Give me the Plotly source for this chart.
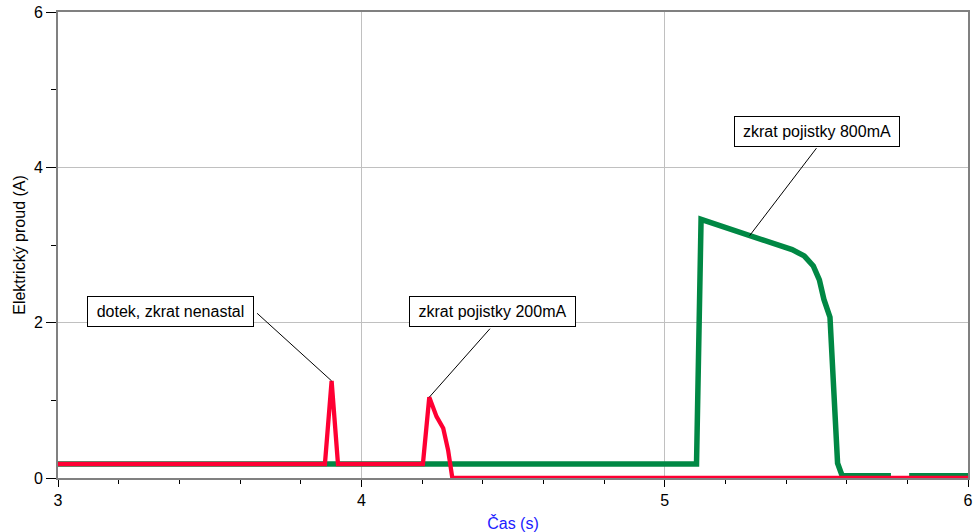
import plotly.graph_objects as go

# Data
green_t = [3.0, 5.105, 5.12, 5.20, 5.28, 5.35, 5.42, 5.46, 5.49, 5.51, 5.525, 5.545,
           5.555, 5.565, 5.57, 5.585, 5.746, None, 5.806, 6.0]
green_i = [0.18, 0.18, 3.33, 3.23, 3.12, 3.03, 2.94, 2.86, 2.73, 2.55, 2.30, 2.07,
           1.40, 0.60, 0.19, 0.03, 0.03, None, 0.03, 0.03]

red_t = [3.0, 3.88, 3.902, 3.923, 4.203, 4.224, 4.248, 4.27, 4.286, 4.30, 6.0]
red_i = [0.18, 0.18, 1.25, 0.18, 0.18, 1.04, 0.79, 0.64, 0.36, 0.0, 0.0]

labels = ["dotek, zkrat nenastal", "zkrat pojistky 200mA", "zkrat pojistky 800mA"]
label_pos = [(3.3725, 2.15), (4.432, 2.15), (5.502, 4.455)]
arrow_heads = [(red_t[2], red_i[2]), (red_t[5], red_i[5]), (green_t[4], green_i[4])]
arrow_offsets = [(-76, -69), (62, -70), (68, -89)]
box_widths = [157, 157, 156]

x_ticks = [3, 4, 5, 6]
y_ticks = [0, 2, 4, 6]

FONT = "Arial, Liberation Sans, sans-serif"

fig = go.Figure()
fig.add_trace(go.Scatter(x=green_t, y=green_i, mode="lines",
                         line=dict(color="rgb(0,136,68)", width=5.5),
                         connectgaps=False, showlegend=False, hoverinfo="skip"))
fig.add_trace(go.Scatter(x=red_t, y=red_i, mode="lines",
                         line=dict(color="rgb(255,0,51)", width=4.3),
                         showlegend=False, hoverinfo="skip"))

annotations = []
for text, (lx, ly), w in zip(labels, label_pos, box_widths):
    annotations.append(dict(x=lx, y=ly, xref="x", yref="y", text=text, showarrow=False,
                            xanchor="center", yanchor="middle",
                            font=dict(family=FONT, size=16, color="black"),
                            bgcolor="white", bordercolor="black", borderwidth=1,
                            borderpad=4, width=w, height=21))
for (hx, hy), (ax, ay) in zip(arrow_heads, arrow_offsets):
    annotations.append(dict(x=hx, y=hy, xref="x", yref="y", text="", showarrow=True,
                            arrowhead=0, arrowwidth=1, arrowcolor="black",
                            ax=ax, ay=ay, standoff=0, startstandoff=0))

fig.update_layout(
    width=980, height=532,
    margin=dict(l=58, r=12, t=12, b=54, autoexpand=False),
    paper_bgcolor="white", plot_bgcolor="white",
    font=dict(family=FONT, size=16, color="black"),
    annotations=annotations,
    xaxis=dict(range=[3, 6], tickvals=x_ticks, ticktext=[str(v) for v in x_ticks],
               automargin=False,
               showgrid=True, gridcolor="#c0c0c0", gridwidth=1,
               showline=True, linecolor="#808080", linewidth=2, mirror=True,
               ticks="outside", ticklen=7, tickcolor="black", tickwidth=1,
               minor=dict(dtick=0.2, ticks="outside", ticklen=4, tickcolor="black", showgrid=False),
               zeroline=False, layer="below traces",
               tickfont=dict(family=FONT, size=16, color="black"),
               title=dict(text="Čas (s)", font=dict(family=FONT, size=16, color="#2020ff"), standoff=10)),
    yaxis=dict(range=[0, 6], tickvals=y_ticks, ticktext=[str(v) for v in y_ticks],
               automargin=False,
               showgrid=True, gridcolor="#c0c0c0", gridwidth=1,
               showline=True, linecolor="#808080", linewidth=2, mirror=True,
               ticks="outside", ticklen=10, tickcolor="black", tickwidth=1,
               minor=dict(dtick=1, ticks="outside", ticklen=5, tickcolor="black", showgrid=False),
               zeroline=False, layer="below traces",
               tickfont=dict(family=FONT, size=16, color="black"),
               title=dict(text="Elektrický proud (A)", font=dict(family=FONT, size=16, color="black"), standoff=4)),
)

fig.write_html("out.html")
